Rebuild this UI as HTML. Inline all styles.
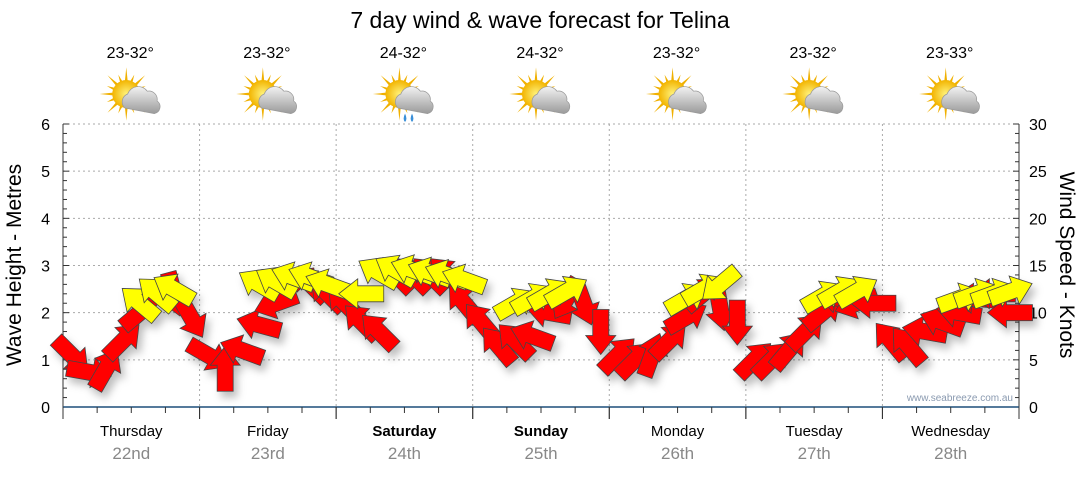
<!DOCTYPE html>
<html><head><meta charset="utf-8"><style>
body{margin:0;background:#fff;width:1080px;height:475px;overflow:hidden;font-family:"Liberation Sans","DejaVu Sans",sans-serif}
svg text{font-family:"Liberation Sans","DejaVu Sans",sans-serif}
</style></head><body>
<svg id="c" width="1080" height="475">
<defs>
<filter id="sh" x="-50%" y="-50%" width="200%" height="200%"><feDropShadow dx="4" dy="6" stdDeviation="4" flood-color="#000" flood-opacity="0.25"/></filter>
<radialGradient id="sun" cx="50%" cy="50%" r="50%"><stop offset="0" stop-color="#fff27a"/><stop offset="1" stop-color="#f2b400"/></radialGradient>
<linearGradient id="cloud" x1="0" y1="0" x2="0" y2="1"><stop offset="0" stop-color="#f2f2f2"/><stop offset="1" stop-color="#9a9a9a"/></linearGradient>
</defs>
<text x="540" y="28" font-size="23" text-anchor="middle">7 day wind &amp; wave forecast for Telina</text>
<g id="grid"></g><g id="axes"></g><g id="days"></g><g id="marks" filter="url(#sh)"></g>
<text x="1013" y="401" font-size="10" fill="#8a9ab0" text-anchor="end">www.seabreeze.com.au</text>
<text transform="translate(21,265) rotate(-90)" font-size="21" text-anchor="middle">Wave Height - Metres</text>
<text transform="translate(1060,265) rotate(90)" font-size="21" text-anchor="middle">Wind Speed - Knots</text>
</svg>
<script>
const dayNames=["Thursday","Friday","Saturday","Sunday","Monday","Tuesday","Wednesday"];
const dayDates=["22nd","23rd","24th","25th","26th","27th","28th"];
const temps=["23-32°","23-32°","24-32°","24-32°","23-32°","23-32°","23-33°"];
const rainy=[false,false,true,false,false,false,false];
const waveTicks=[0,1,2,3,4,5,6];
const windTicks=[0,5,10,15,20,25,30];
// wind (knots) per 3-hour slot, 56 slots
const windKn=[5.5,3.7,4,7,10,12,12,9.5, 5.5,4,6,8.7,11,13.5,13,12, 11,9,8,14,14,14,14,11, 9,6.5,7,7.5,10,11.5,11,8, 5.5,5,5.5,7,9.5,12,10.5,9, 5,5,6,8,10,11.5,11,11, 7,6.5,8,9,10,11.5,12,10];
const windDir=[45,10,-60,-45,-40,-45,75,60, 30,-90,200,195,160,170,225,225, 225,225,225,225,225,225,225,230, 230,230,225,200,190,120,70,90, -45,-45,-70,-45,-30,-40,80,90, -45,-45,-50,-45,-40,190,160,180, 230,230,190,200,190,185,180,180];
const waveM=[null,null,null,null,2.2,2.4,2.5,null, null,null,null,2.6,2.65,2.75,2.75,2.6, null,2.4,2.85,2.9,2.9,2.85,2.8,2.7, null,null,2.2,2.3,2.4,2.45,null,null, null,null,null,null,2.3,2.5,2.6,null, null,null,null,null,2.35,2.45,2.45,null, null,null,null,null,2.3,2.4,2.4,2.45];
const waveDir=[0,0,0,0,-140,-140,-150,0, 0,0,0,-150,-150,-160,-160,-160, 0,180,-150,-150,-160,-160,-160,-160, 0,0,-30,-30,-30,-30,0,0, 0,0,0,0,-30,-30,140,0, 0,0,0,0,-30,-30,-30,0, 0,0,0,0,-20,-20,-20,-20];

const NS="http://www.w3.org/2000/svg";
const L=63,R=1019,T=124,B=407,DW=(R-L)/7;
const yW=v=>B-(B-T)*v/6, yK=v=>B-(B-T)*v/30, xS=i=>L+(i+0.5)*DW/8;
function mk(tag,at,par,txt){const e=document.createElementNS(NS,tag);for(const k in at)e.setAttribute(k,at[k]);if(txt!==undefined)e.textContent=txt;par.appendChild(e);return e;}
const grid=document.getElementById('grid'),axes=document.getElementById('axes'),days=document.getElementById('days'),marks=document.getElementById('marks');
waveTicks.forEach(v=>{if(v>0){const g=mk('line',{x1:L,x2:R,y1:yW(v),y2:yW(v),stroke:'#aaa','stroke-dasharray':'2,3'},grid);

}
const t=mk('text',{x:50,y:yW(v)+6,'font-size':16,'text-anchor':'end'},axes,String(v));

});
windTicks.forEach(v=>{const t=mk('text',{x:1029,y:yK(v)+6,'font-size':16},axes,String(v));

});
for(let i=0;i<=30;i++){const y=B-(B-T)*i/30,len=(i%5==0)?6:4;
mk('line',{x1:L,x2:L+len,y1:y,y2:y,stroke:'#333'},axes);mk('line',{x1:R,x2:R-len,y1:y,y2:y,stroke:'#333'},axes);}
mk('line',{x1:L,x2:L,y1:T,y2:B,stroke:'#333'},axes);mk('line',{x1:R,x2:R,y1:T,y2:B,stroke:'#333'},axes);
mk('line',{x1:L,x2:R,y1:B,y2:B,stroke:'#1d4f7a','stroke-width':1.5},axes);
for(let d=0;d<7;d++){const x0=L+d*DW;
if(d>0){const g=mk('line',{x1:x0,x2:x0,y1:T,y2:B,stroke:'#aaa','stroke-dasharray':'2,3'},grid);

}
for(let k=0;k<=4;k++){const x=x0+k*DW/4;mk('line',{x1:x,x2:x,y1:B,y2:B+(k%4==0?12:6),stroke:'#333'},axes);}
const cx=x0+DW/2,bold=(d==2||d==3);
const n=mk('text',{x:cx,y:436,'font-size':15,'text-anchor':'middle','font-weight':bold?'bold':'normal'},days,dayNames[d]);


const dt=mk('text',{x:cx,y:459,'font-size':17,'text-anchor':'middle',fill:'#888'},days,dayDates[d]);


const tp=mk('text',{x:cx-1,y:58,'font-size':16,'text-anchor':'middle'},days,temps[d]);


const ic=mk('g',{transform:`translate(${cx-5},94) scale(1.4)`},days);


for(let a=0;a<16;a++){const an=a*Math.PI/8,r1=(a%2?15:19);mk('polygon',{points:`${Math.cos(an-0.14)*8},${Math.sin(an-0.14)*8} ${Math.cos(an)*r1},${Math.sin(an)*r1} ${Math.cos(an+0.14)*8},${Math.sin(an+0.14)*8}`,fill:'#f0b000'},ic);}
mk('circle',{cx:0,cy:0,r:10,fill:'url(#sun)'},ic);
mk('path',{d:'M-1,10 a6,6 0 0 1 2,-10 a8,8 0 0 1 14,-2 a6,6 0 0 1 7,7 a5,5 0 0 1 -2,9 z',fill:'url(#cloud)',stroke:'#999','stroke-width':0.5},ic);
if(rainy[d]){mk('path',{d:'M4,14 q2,4 0,6 q-2,-2 0,-6z M9,14 q2,4 0,6 q-2,-2 0,-6z',fill:'#3a8fd8'},ic);}
}
function arrow(x,y,deg,fill,name){
const g=mk('g',{transform:`translate(${x},${y}) rotate(${deg})`},marks);


mk('polygon',{points:'-22,-8 4,-8 4,-15 23,0 4,15 4,8 -22,8',fill:fill,stroke:'#444','stroke-width':0.8},g);}
windKn.forEach((v,i)=>{if(v!==null)arrow(xS(i),yK(v),windDir[i],'#ff0000','wind-arrow');});
waveM.forEach((v,i)=>{if(v!==null)arrow(xS(i),yW(v),waveDir[i],'#ffff00','wave-arrow');});
</script>
</body></html>
